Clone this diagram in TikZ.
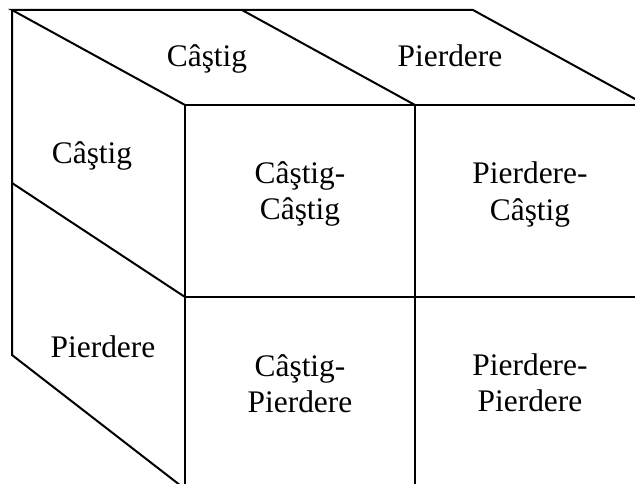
\documentclass[tikz,border=0pt]{standalone}
\usepackage{fontspec}
\setmainfont{Liberation Serif}
\begin{document}
\begin{tikzpicture}[x=1pt,y=-1pt,
  edge/.style={line width=2pt,line join=miter},
  lbl/.style={inner sep=0pt,anchor=base,font=\fontsize{31.4}{36.7}\selectfont}]
\useasboundingbox (0,0) rectangle (635,484);
\clip (0,0) rectangle (635,484);
% back corners of the top face
\coordinate (tA) at (12,10);
\coordinate (tB) at (242,10);
\coordinate (tC) at (473,10);
% front face grid
\coordinate (f1) at (185,105);
\coordinate (f2) at (415,105);
\coordinate (f3) at (646,105);
\coordinate (m1) at (185,297);
\coordinate (m2) at (415,297);
\coordinate (m3) at (646,297);
\coordinate (b1) at (185,500);
\coordinate (b2) at (415,500);
% left face
\coordinate (lM) at (12,183);
\coordinate (lB) at (12,355);
\coordinate (lE) at (185,489);
% top face
\draw[edge] (f1) -- (tA) -- (tC) -- (f3);
\draw[edge] (tB) -- (f2);
% front face
\draw[edge] (f1) -- (f3);
\draw[edge] (m1) -- (m3);
\draw[edge] (f1) -- (b1);
\draw[edge] (f2) -- (b2);
% left face
\draw[edge] (tA) -- (lB) -- (lE);
\draw[edge] (lM) -- (m1);
% labels
\node[lbl] (topC) at (207,67) {Câştig};
\node[lbl] (topP) at (450,67) {Pierdere};
\node[lbl] (leftC) at (92,164) {Câştig};
\node[lbl] (leftP) at (103,357) {Pierdere};
\node[lbl] (cc) at (300,183) {\begin{tabular}[t]{@{}c@{}}Câştig-\\Câştig\end{tabular}};
\node[lbl] (pc) at (530,184) {\begin{tabular}[t]{@{}c@{}}Pierdere-\\Câştig\end{tabular}};
\node[lbl] (cp) at (300,376) {\begin{tabular}[t]{@{}c@{}}Câştig-\\Pierdere\end{tabular}};
\node[lbl] (pp) at (530,375) {\begin{tabular}[t]{@{}c@{}}Pierdere-\\Pierdere\end{tabular}};
\end{tikzpicture}
\end{document}
